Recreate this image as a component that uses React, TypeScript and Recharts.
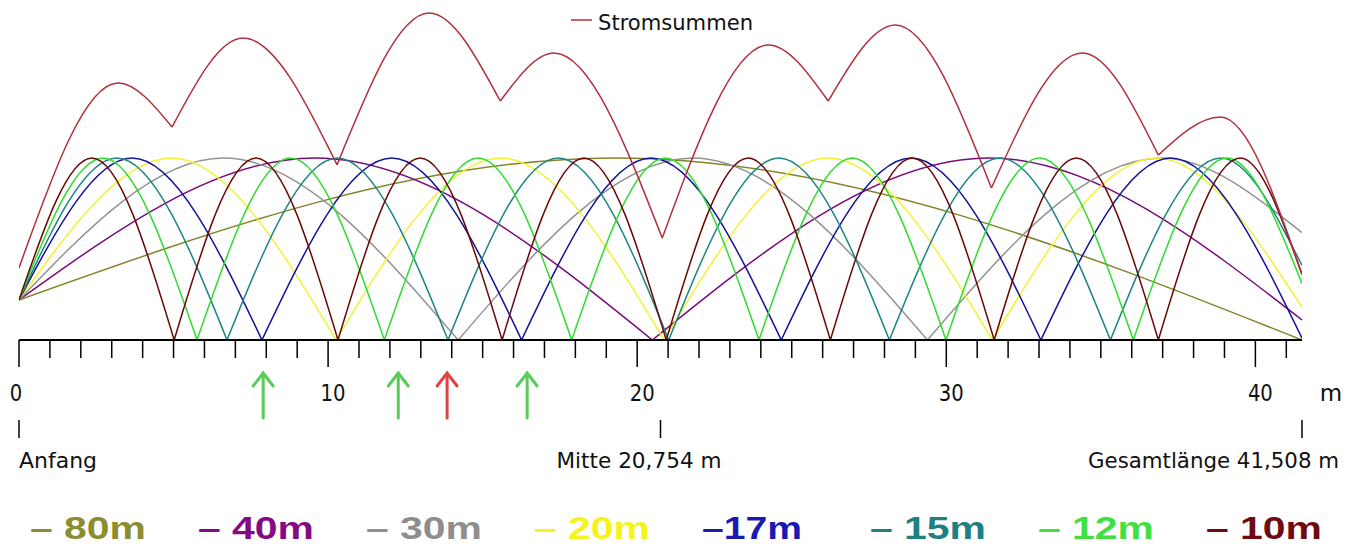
import React from "react";
import { ComposedChart, Line, XAxis, YAxis, ReferenceDot, Legend } from "recharts";

type Pt = [number, number];

// Stützpunkte je Band: [Position in m, relativer Strom] – Ende, Bäuche, Knoten
const strom80m: Pt[] = [[0, 0.22], [19.29, 1], [41.508, 0]];
const strom40m: Pt[] = [[0, 0.22], [9.58, 1], [20.49, 0], [31.39, 1], [41.508, 0.11]];
const strom30m: Pt[] = [[0, 0.22], [6.62, 1], [14.21, 0], [21.8, 1], [29.39, 0], [36.97, 1], [41.508, 0.59]];
const strom20m: Pt[] = [[0, 0.22], [4.95, 1], [10.26, 0], [15.57, 1], [20.87, 0], [26.18, 1], [31.49, 0], [36.8, 1], [41.508, 0.18]];
const strom17m: Pt[] = [[0, 0.22], [3.66, 1], [7.86, 0], [12.06, 1], [16.26, 0], [20.45, 1], [24.66, 0], [28.86, 1], [33.06, 0], [37.26, 1], [41.508, 0.01]];
const strom15m: Pt[] = [[0, 0.22], [3.17, 1], [6.73, 0], [10.3, 1], [13.88, 0], [17.45, 1], [21.02, 0], [24.59, 1], [28.16, 0], [31.73, 1], [35.31, 0], [38.88, 1], [41.508, 0.41]];
const strom12m: Pt[] = [[0, 0.22], [2.72, 1], [5.76, 0], [8.79, 1], [11.82, 0], [14.85, 1], [17.88, 0], [20.91, 1], [23.94, 0], [26.96, 1], [29.99, 0], [33.02, 1], [36.05, 0], [39.08, 1], [41.508, 0.31]];
const strom10m: Pt[] = [[0, 0.22], [2.36, 1], [5.02, 0], [7.67, 1], [10.32, 0], [12.98, 1], [15.63, 0], [18.28, 1], [20.94, 0], [23.59, 1], [26.25, 0], [28.9, 1], [31.55, 0], [34.21, 1], [36.86, 0], [39.51, 1], [41.508, 0.36]];
const stromSumme: Pt[] = [[0, 0.396], [3.2, 1.412], [4.95, 1.17], [7.25, 1.659], [10.29, 0.962], [13.27, 1.797], [15.57, 1.313], [17.31, 1.577], [20.81, 0.56], [24.24, 1.621], [26.18, 1.313], [28.35, 1.731], [31.46, 0.835], [34.4, 1.577], [36.86, 1.016], [38.87, 1.225], [41.508, 0.36]];

const bandNames = ["80m", "40m", "30m", "20m", "17m", "15m", "12m", "10m"];
const bandLabels = ["– 80m", "– 40m", "– 30m", "– 20m", "–17m", "– 15m", "– 12m", "– 10m"];
const bandCurrents = [strom80m, strom40m, strom30m, strom20m, strom17m, strom15m, strom12m, strom10m];
const lineColors = ["#84842a", "#7a0a7a", "#939393", "#f2f230", "#12129a", "#1f8585", "#2edc2e", "#6a0808"];
const legendColors = ["#8c8c30", "#840a84", "#8e8e8e", "#f4f41c", "#1a1ab0", "#1e8080", "#40e040", "#6e0a10"];
const sumColor = "#b0303e";

const meterTicks = [0, 1, 2, 3, 4, 5, 6, 7, 8, 9, 10, 11, 12, 13, 14, 15, 16, 17, 18, 19, 20, 21, 22, 23, 24, 25, 26, 27, 28, 29, 30, 31, 32, 33, 34, 35, 36, 37, 38, 39, 40, 41];
const gesamtLaenge = 41.508;
const markerPos = [0, 20.754, 41.508];
const markerLabels = ["Anfang", "Mitte 20,754 m", "Gesamtlänge 41,508 m"];
const greenArrows = [7.9, 12.27, 16.44];
const redArrows = [13.85];

const FONT = "'DejaVu Sans', Verdana, sans-serif";

// split at every cusp (local minimum) so each arch gets its own smooth curve
function toRows(pts: Pt[]) {
  const rows: { x: number; v: number | null }[] = [];
  pts.forEach(([x, v], i) => {
    rows.push({ x, v });
    const prev = pts[i - 1];
    const next = pts[i + 1];
    if (prev && next && v < prev[1] && v < next[1]) {
      rows.push({ x, v: null }, { x, v });
    }
  });
  return rows;
}

const MeterTick = (props: any) => {
  const { x, y, payload } = props;
  const major = payload.value % 10 === 0;
  const label = String(payload.value);
  return (
    <g>
      <line x1={x} x2={x} y1={y} y2={y + (major ? 27 : 18)} stroke="#000" strokeWidth={1.5} />
      {major && (
        <text
          x={x + (payload.value === 0 ? -3 : 5)}
          y={y + 61}
          textAnchor="middle"
          fontSize={23}
          fontFamily={FONT}
          fill="#111"
          textLength={label.length * 12.5}
          lengthAdjust="spacingAndGlyphs"
        >
          {label}
        </text>
      )}
    </g>
  );
};

const markerLayout = [
  { dx: 0, len: 78 },
  { dx: -104, len: 165 },
  { dx: -214, len: 251 },
];

const makeMarker = (i: number) => (p: any) => {
  const { cx, cy } = p;
  return (
    <g>
      <line x1={cx} x2={cx} y1={cy + 80} y2={cy + 98} stroke="#000" strokeWidth={1.5} />
      <text
        x={cx + markerLayout[i].dx}
        y={cy + 128}
        fontSize={22}
        fontFamily={FONT}
        fill="#111"
        textLength={markerLayout[i].len}
        lengthAdjust="spacingAndGlyphs"
      >
        {markerLabels[i]}
      </text>
      {i === 2 && (
        <text x={cx + 29} y={cy + 61} textAnchor="middle" fontSize={23} fontFamily={FONT} fill="#111">
          m
        </text>
      )}
    </g>
  );
};

const makeArrow = (color: string) => (p: any) => {
  const { cx, cy } = p;
  const tip = cy + 33;
  return (
    <g stroke={color} strokeWidth={3} fill="none" strokeLinecap="round" opacity={0.85}>
      <line x1={cx} x2={cx} y1={tip + 2} y2={cy + 78} />
      <polyline points={`${cx - 10},${tip + 13} ${cx},${tip} ${cx + 10},${tip + 13}`} />
    </g>
  );
};

const LegendOverlay = () => (
  <svg width={1354} height={549} style={{ position: "absolute", left: 0, top: 0 }}>
    <line x1={571} x2={592} y1={20} y2={20} stroke={sumColor} strokeWidth={1.5} />
    <text x={598} y={30} fontSize={22} fontFamily={FONT} fill="#111" textLength={155} lengthAdjust="spacingAndGlyphs">
      Stromsummen
    </text>
    {bandLabels.map((lbl, i) => (
      <text
        key={bandNames[i]}
        x={30 + i * 168}
        y={539}
        fontSize={31}
        fontWeight="bold"
        fontFamily="'Liberation Sans', Arial, sans-serif"
        fill={legendColors[i]}
        textLength={i === 4 ? 100 : 116}
        lengthAdjust="spacingAndGlyphs"
      >
        {lbl}
      </text>
    ))}
  </svg>
);

export default function App() {
  return (
    <div style={{ position: "absolute", left: 0, top: 0, width: 1354, height: 549, background: "#fff" }}>
      <ComposedChart width={1354} height={549} margin={{ top: 0, right: 52, left: 19, bottom: 179 }}>
        <XAxis
          type="number"
          dataKey="x"
          domain={[0, gesamtLaenge]}
          ticks={meterTicks}
          interval={0}
          allowDataOverflow
          height={30}
          tickSize={0}
          tickMargin={0}
          tickLine={false}
          axisLine={{ stroke: "#000", strokeWidth: 2 }}
          tick={<MeterTick />}
        />
        <YAxis hide type="number" domain={[0, 1.868]} allowDataOverflow />
        {bandCurrents.map((pts, i) => (
          <Line
            key={bandNames[i]}
            name={bandNames[i]}
            data={toRows(pts)}
            dataKey="v"
            type="monotone"
            stroke={lineColors[i]}
            strokeWidth={1.5}
            dot={false}
            activeDot={false}
            connectNulls={false}
            isAnimationActive={false}
          />
        ))}
        <Line
          name="Stromsummen"
          data={toRows(stromSumme)}
          dataKey="v"
          type="monotone"
          stroke={sumColor}
          strokeWidth={1.5}
          dot={false}
          activeDot={false}
          connectNulls={false}
          isAnimationActive={false}
        />
        {markerPos.map((m, i) => (
          <ReferenceDot key={"mk" + i} x={m} y={0} r={0} shape={makeMarker(i)} />
        ))}
        {greenArrows.map((m) => (
          <ReferenceDot key={"g" + m} x={m} y={0} r={0} shape={makeArrow("#3ec43e")} />
        ))}
        {redArrows.map((m) => (
          <ReferenceDot key={"r" + m} x={m} y={0} r={0} shape={makeArrow("#d82424")} />
        ))}
        <Legend
          layout="vertical"
          align="center"
          verticalAlign="middle"
          width={1354}
          height={549}
          wrapperStyle={{ left: 0, top: 0, width: 1354, height: 549, pointerEvents: "none" }}
          content={<LegendOverlay />}
        />
      </ComposedChart>
    </div>
  );
}
